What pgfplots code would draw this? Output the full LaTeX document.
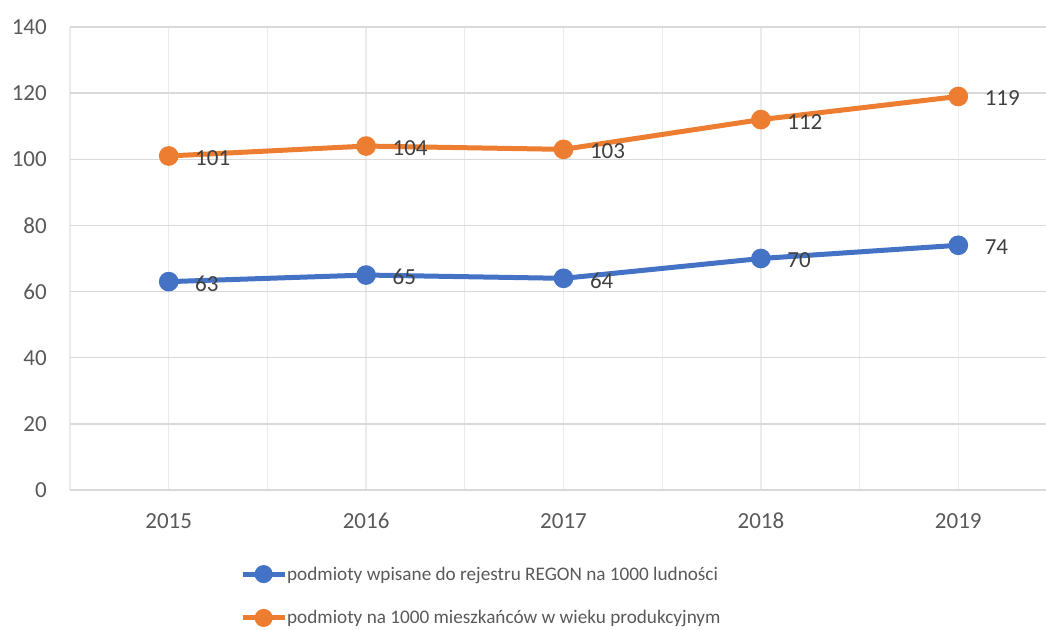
\documentclass[border=0pt]{standalone}
\usepackage{pgfplots}
\pgfplotsset{compat=1.18}
\usepackage{fontspec}
\setmainfont{Carlito}
\definecolor{sblue}{HTML}{4472C4}
\definecolor{sorange}{HTML}{ED7D31}
\definecolor{ticktxt}{HTML}{595959}
\definecolor{lbltxt}{HTML}{404040}
\definecolor{hgrid}{HTML}{D9D9D9}
\definecolor{vgrid}{HTML}{EBEBEB}
\begin{document}
\begin{tikzpicture}
\useasboundingbox (0,0) rectangle (1046bp,630bp);
\begin{axis}[
  at={(70bp,140bp)}, anchor=south west,
  scale only axis, width=987bp, height=463bp,
  xmin=-0.5, xmax=4.5, ymin=0, ymax=140,
  xtick={0,1,2,3,4}, xticklabels={2015,2016,2017,2018,2019},
  minor xtick={-0.5,0.5,1.5,2.5,3.5,4.5},
  ytick={0,20,...,140},
  xmajorgrids, xminorgrids, ymajorgrids,
  major x grid style={vgrid, line width=1.3bp},
  minor x grid style={vgrid, line width=1.3bp},
  major y grid style={hgrid, line width=1.5bp},
  axis line style={draw=none},
  major tick length=0pt, minor tick length=0pt,
  /pgf/number format/assume math mode=true,
  tick label style={font=\fontsize{23bp}{27bp}\selectfont, text=ticktxt, inner sep=0pt},
  yticklabel style={anchor=east, xshift=-23bp},
  xticklabel style={anchor=center, yshift=-31bp},
  clip=false,
  nodes near coords,
  every node near coord/.append style={anchor=west, xshift=24bp, yshift=-2bp, inner sep=0pt,
    font=\fontsize{23bp}{27bp}\selectfont, text=lbltxt},
  legend style={draw=none, fill=none, at={(0.1722,-0.229)}, anchor=west,
    font=\fontsize{19.2bp}{23bp}\selectfont, text=ticktxt, inner sep=0pt,
    nodes={inner sep=0pt}, row sep=29bp},
  legend cell align=left,
  legend image code/.code={\draw[mark repeat=2, mark phase=2, mark size=6.5bp] plot coordinates {(0bp,0bp) (21bp,0bp) (42bp,0bp)};},
]
\addplot[color=sblue, line width=5bp, mark=*, mark size=7.3bp, mark options={draw=none, fill=sblue}]
  coordinates {(0,63) (1,65) (2,64) (3,70) (4,74)};
\addlegendentry{podmioty wpisane do rejestru REGON na 1000 ludności}
\addplot[color=sorange, line width=5bp, mark=*, mark size=7.3bp, mark options={draw=none, fill=sorange}]
  coordinates {(0,101) (1,104) (2,103) (3,112) (4,119)};
\addlegendentry{podmioty na 1000 mieszkańców w wieku produkcyjnym}
\end{axis}
\end{tikzpicture}
\end{document}
